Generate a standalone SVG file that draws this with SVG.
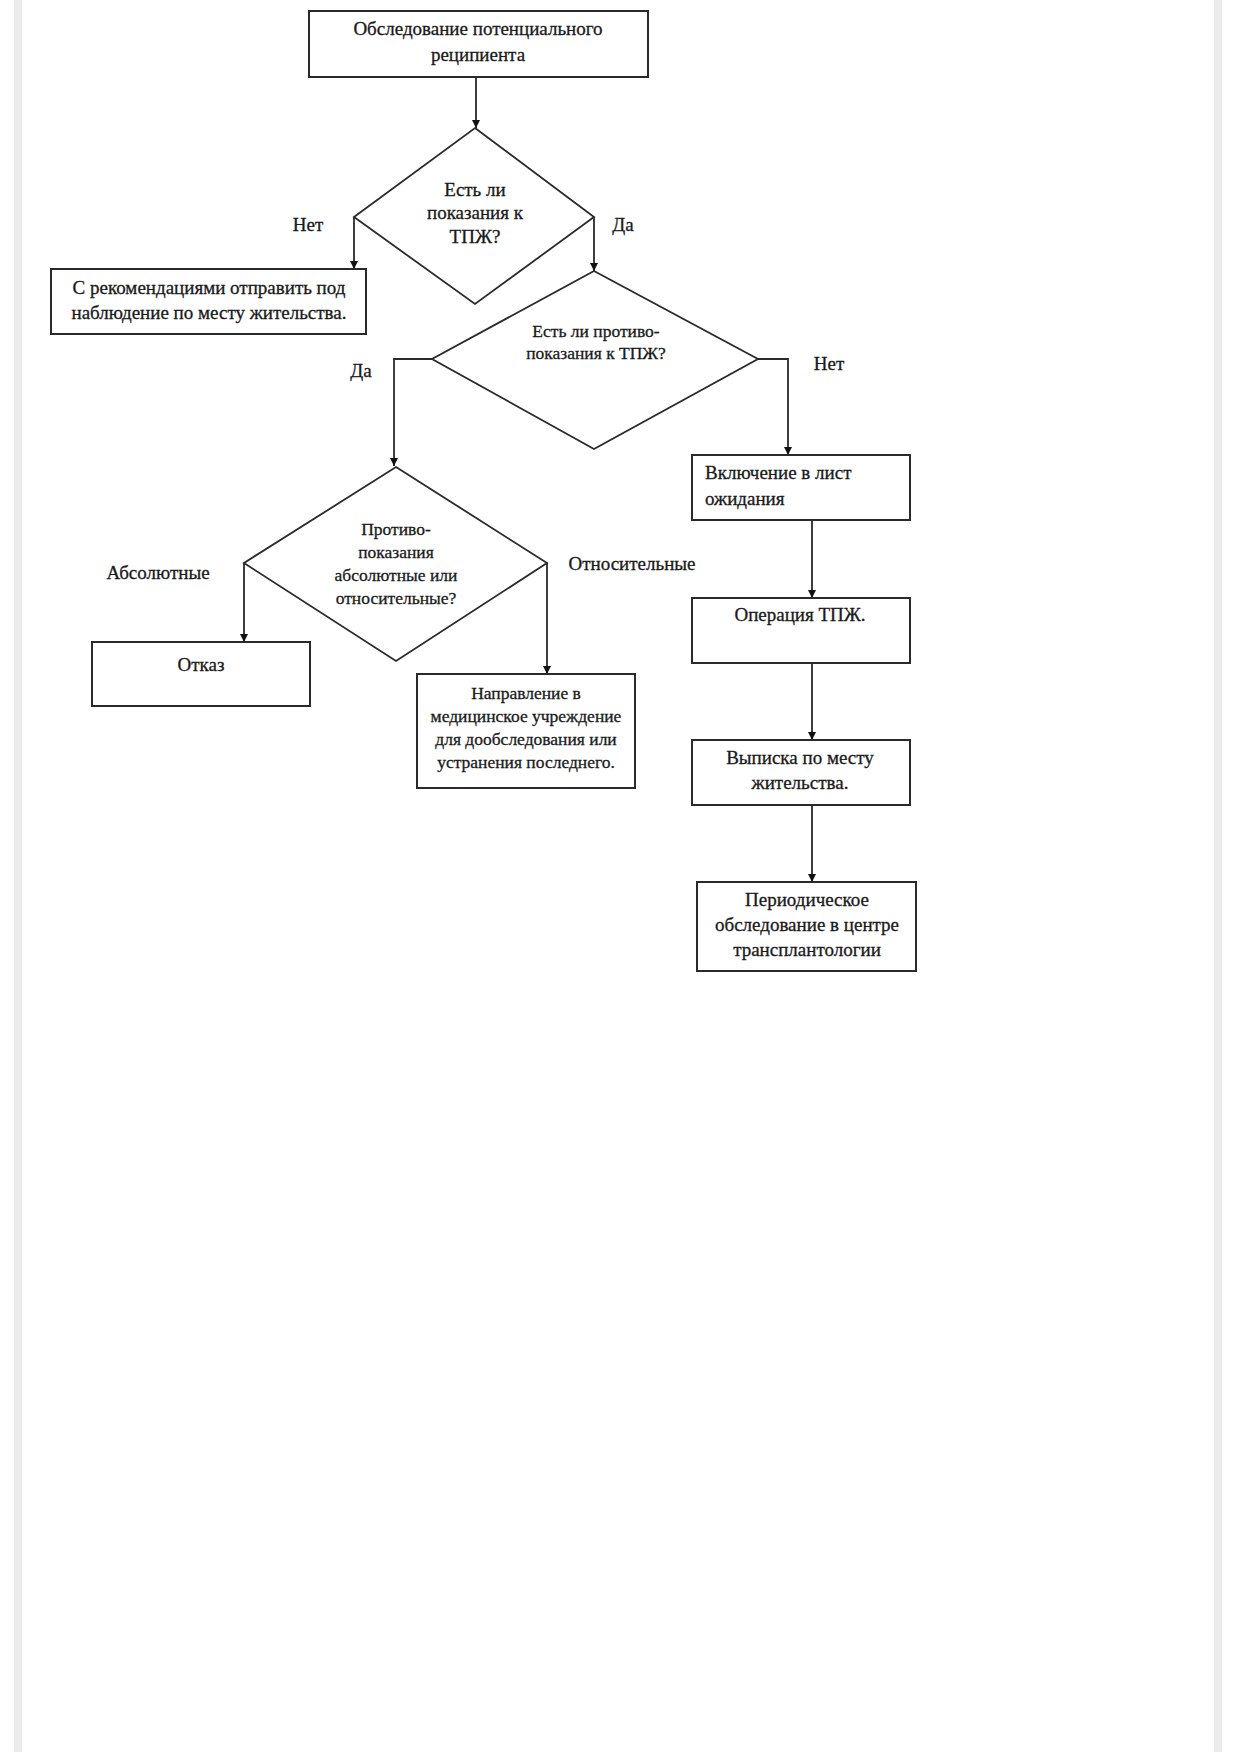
<svg xmlns="http://www.w3.org/2000/svg" width="1237" height="1752" viewBox="0 0 1237 1752">
<style>
.box{fill:#fff;stroke:#2a2a2a;stroke-width:2}
.dia{fill:#fff;stroke:#2a2a2a;stroke-width:1.8}
.t{font-family:"Liberation Serif","Times New Roman",serif;font-size:19px;fill:#1a1a1a;stroke:#1a1a1a;stroke-width:0.3}
.s{font-size:17.5px}
.c{text-anchor:middle}
.ln{fill:none;stroke:#2a2a2a;stroke-width:1.8}
</style>
<defs>
<marker id="ah" viewBox="0 0 10 10" refX="10" refY="5" markerWidth="8" markerHeight="8" markerUnits="userSpaceOnUse" orient="auto">
<path d="M0,0 L10,5 L0,10 z" fill="#111"/>
</marker>
</defs>
<rect x="0" y="0" width="1237" height="1752" fill="#fff"/>
<rect x="14" y="0" width="8" height="1752" fill="#ebebeb"/>
<rect x="1214" y="0" width="8" height="1752" fill="#ebebeb"/>

<g id="connectors">
<path class="ln" d="M476,77 L476,128" marker-end="url(#ah)"/>
<path class="ln" d="M354,217 L354,269" marker-end="url(#ah)"/>
<path class="ln" d="M594,217 L594,271" marker-end="url(#ah)"/>
<path class="ln" d="M432,359 L394,359 L394,466" marker-end="url(#ah)"/>
<path class="ln" d="M758,359 L788,359 L788,455" marker-end="url(#ah)"/>
<path class="ln" d="M244,563 L244,642" marker-end="url(#ah)"/>
<path class="ln" d="M547,563 L547,674" marker-end="url(#ah)"/>
<path class="ln" d="M812,520 L812,598" marker-end="url(#ah)"/>
<path class="ln" d="M812,663 L812,740" marker-end="url(#ah)"/>
<path class="ln" d="M812,805 L812,882" marker-end="url(#ah)"/>
<text class="t c" x="308" y="231">Нет</text>
<text class="t c" x="623" y="231">Да</text>
<text class="t c" x="361" y="377">Да</text>
<text class="t c" x="829" y="370">Нет</text>
<text class="t c" x="158" y="579">Абсолютные</text>
<text class="t c" x="632" y="570">Относительные</text>
</g>

<g id="n_start">
<rect class="box" x="309" y="11" width="339" height="66"/>
<text class="t c" x="478" y="35">Обследование потенциального</text>
<text class="t c" x="478" y="61">реципиента</text>
</g>

<g id="d_indications">
<polygon class="dia" points="475,128 594,217 475,304 354,217"/>
<text class="t c" x="475" y="196">Есть ли</text>
<text class="t c" x="475" y="219">показания к</text>
<text class="t c" x="475" y="243">ТПЖ?</text>
</g>

<g id="n_observe">
<rect class="box" x="51" y="269" width="315" height="65"/>
<text class="t c" x="209" y="294">С рекомендациями отправить под</text>
<text class="t c" x="209" y="319">наблюдение по месту жительства.</text>
</g>

<g id="d_contra">
<polygon class="dia" points="594,271 758,359 594,449 432,359"/>
<text class="t s c" x="596" y="337">Есть ли противо-</text>
<text class="t s c" x="596" y="359">показания к ТПЖ?</text>
</g>

<g id="d_type">
<polygon class="dia" points="396,467 547,563 396,661 244,563"/>
<text class="t s c" x="396" y="535">Противо-</text>
<text class="t s c" x="396" y="558">показания</text>
<text class="t s c" x="396" y="581">абсолютные или</text>
<text class="t s c" x="396" y="604">относительные?</text>
</g>

<g id="n_refuse">
<rect class="box" x="92" y="642" width="218" height="64"/>
<text class="t c" x="201" y="671">Отказ</text>
</g>

<g id="n_refer">
<rect class="box" x="417" y="674" width="218" height="114"/>
<text class="t s c" x="526" y="699">Направление в</text>
<text class="t s c" x="526" y="722">медицинское учреждение</text>
<text class="t s c" x="526" y="745">для дообследования или</text>
<text class="t s c" x="526" y="768">устранения последнего.</text>
</g>

<g id="n_waitlist">
<rect class="box" x="692" y="455" width="218" height="65"/>
<text class="t" x="705" y="479">Включение в лист</text>
<text class="t" x="705" y="505">ожидания</text>
</g>

<g id="n_operation">
<rect class="box" x="692" y="598" width="218" height="65"/>
<text class="t c" x="800" y="621">Операция ТПЖ.</text>
</g>

<g id="n_discharge">
<rect class="box" x="692" y="740" width="218" height="65"/>
<text class="t c" x="800" y="764">Выписка по месту</text>
<text class="t c" x="800" y="789">жительства.</text>
</g>

<g id="n_periodic">
<rect class="box" x="697" y="882" width="219" height="89"/>
<text class="t c" x="807" y="906">Периодическое</text>
<text class="t c" x="807" y="931">обследование в центре</text>
<text class="t c" x="807" y="956">трансплантологии</text>
</g>
</svg>
